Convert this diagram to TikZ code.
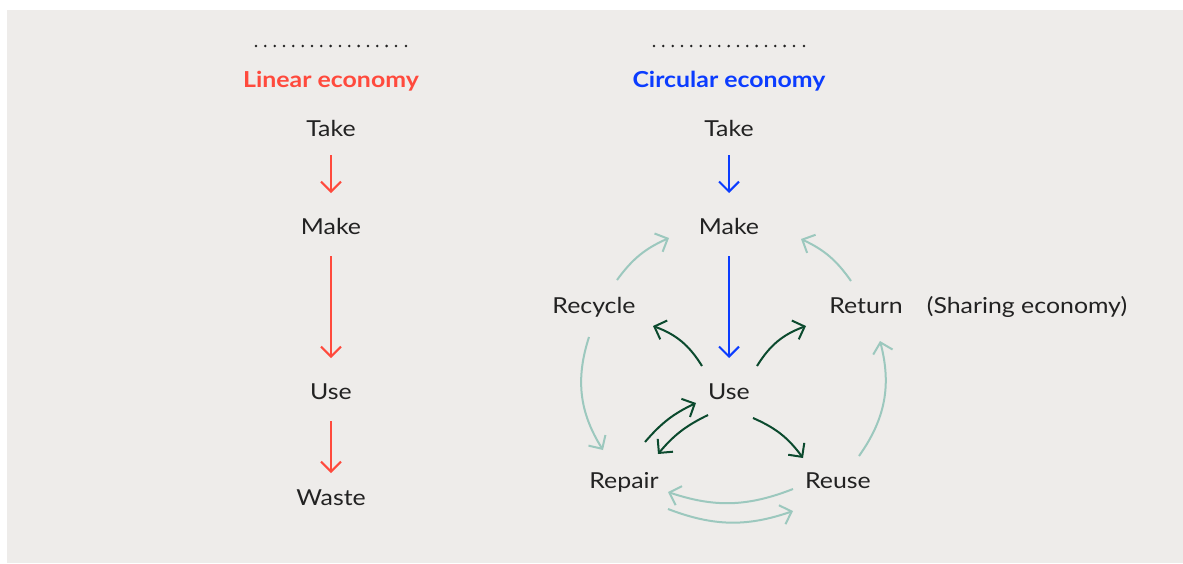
\documentclass[tikz,border=0pt]{standalone}
\usepackage{fontspec}
\setmainfont{Lato}[FakeStretch=1.13]
\usetikzlibrary{arrows.meta}
\definecolor{bgc}{HTML}{EEECEA}
\definecolor{redc}{HTML}{FF4A3D}
\definecolor{bluec}{HTML}{0B3CFF}
\definecolor{dgreen}{HTML}{0B4A2E}
\definecolor{teal}{HTML}{9CC8BE}
\definecolor{txt}{HTML}{222222}
\begin{document}
\begin{tikzpicture}[x=1pt,y=-1pt,
  lbl/.style={anchor=base,inner sep=0pt,text=txt,font=\fontsize{22}{26}\selectfont},
  ttl/.style={anchor=base,inner sep=0pt,font=\fontsize{22}{26}\selectfont\bfseries},
  arr/.style={line width=2pt,-{Straight Barb[length=10pt,width=20pt,line width=2pt]}},
  redarr/.style={arr,draw=redc},
  bluearr/.style={arr,draw=bluec},
  grarr/.style={arr,draw=dgreen},
  tlarr/.style={arr,draw=teal},
  dotc/.style={fill=txt}]
\fill[white] (0,0) rectangle (1183,563);
\useasboundingbox (0,0) rectangle (1183,563);
\fill[bgc] (7,10) rectangle (1183,563);
% dotted rules
\foreach \i in {0,...,15} {
  \fill[dotc] (256+9.33*\i,46) circle (1.4);
  \fill[dotc] (654+9.33*\i,46) circle (1.4);
}
\fill[dotc] (406,46) circle (1.4);
\fill[dotc] (804,46) circle (1.4);
% titles
\node[ttl,text=redc] (lin) at (331,87) {Linear economy};
\node[ttl,text=bluec] (circ) at (729,87) {Circular economy};
% linear
\node[lbl] (take1) at (331,136) {Take};
\node[lbl] (make1) at (331,234) {Make};
\node[lbl] (use1) at (331,399) {Use};
\node[lbl] (waste1) at (331,505) {Waste};
\draw[redarr] ([shift={(0,19)}]take1.base) -- ([shift={(0,-41)}]make1.base);
\draw[redarr] ([shift={(0,22)}]make1.base) -- ([shift={(0,-41)}]use1.base);
\draw[redarr] ([shift={(0,22)}]use1.base) -- ([shift={(0,-32)}]waste1.base);
% circular
\node[lbl] (take2) at (729,136) {Take};
\node[lbl] (make2) at (729,234) {Make};
\node[lbl] (use2) at (729,399) {Use};
\node[lbl] (recycle) at (594,313) {Recycle};
\node[lbl] (return) at (866,313) {Return};
\node[lbl] (sharing) at (1027,313) {(Sharing economy)};
\node[lbl] (repair) at (624,488) {Repair};
\node[lbl] (reuse) at (838,488) {Reuse};
\draw[bluearr] ([shift={(0,19)}]take2.base) -- ([shift={(0,-41)}]make2.base);
\draw[bluearr] ([shift={(0,22)}]make2.base) -- ([shift={(0,-41)}]use2.base);
% dark green
\draw[grarr] ([shift={(-27,-33)}]use2.base) to[bend right=19] ([shift={(59,13)}]recycle.base);
\draw[grarr] ([shift={(28,-33)}]use2.base) to[bend left=19] ([shift={(-60,13)}]return.base);
\draw[grarr] ([shift={(21,-46)}]repair.base) to[bend left=12] ([shift={(-33,4)}]use2.base);
\draw[grarr] ([shift={(-21,16)}]use2.base) to[bend right=12] ([shift={(34,-34)}]repair.base);
\draw[grarr] ([shift={(24,19)}]use2.base) to[bend left=15] ([shift={(-35,-30)}]reuse.base);
% teal
\draw[tlarr] ([shift={(23,-33)}]recycle.base) to[bend left=15] ([shift={(-60,4)}]make2.base);
\draw[tlarr] ([shift={(-15,-32)}]return.base) to[bend right=15] ([shift={(72,5)}]make2.base);
\draw[tlarr] ([shift={(-5,24)}]recycle.base) to[bend right=25] ([shift={(-21,-38)}]repair.base);
\draw[tlarr] ([shift={(21,-32)}]reuse.base) to[bend right=25] ([shift={(14,28)}]return.base);
\draw[tlarr] ([shift={(-45,1)}]reuse.base) to[bend left=20] ([shift={(44,4)}]repair.base);
\draw[tlarr] ([shift={(44,21)}]repair.base) to[bend right=20] ([shift={(-45,23)}]reuse.base);
\end{tikzpicture}
\end{document}
